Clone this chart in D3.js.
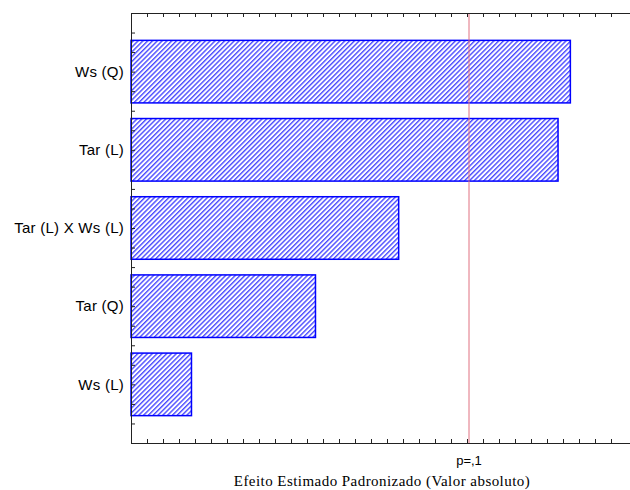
<!DOCTYPE html>
<html>
<head>
<meta charset="utf-8">
<script src="https://cdn.jsdelivr.net/npm/d3@7/dist/d3.min.js"></script>
<style>
  html, body { margin: 0; padding: 0; background: #fff; }
  svg { display: block; }
</style>
</head>
<body>
<script>
// ---- data ----
const categories = ["Ws (Q)", "Tar (L)", "Tar (L) X Ws (L)", "Tar (Q)", "Ws (L)"];
const effects = [2.746, 2.669, 1.673, 1.153, 0.378];
const pValueLine = 2.1125;
const pLabel = "p=,1";
const xTitle = "Efeito Estimado Padronizado (Valor absoluto)";
const xTickValues = d3.range(0, 31).map(i => i / 10);
const yTickValues = d3.range(0, 23);

// ---- layout ----
const W = 630, H = 490;
const mLeft = 131, mTop = 13, mRight = 630, mBottom = 443;

const svg = d3.select("body").append("svg").attr("width", W).attr("height", H);

const defs = svg.append("defs");
const pat = defs.append("pattern")
  .attr("id", "hatch")
  .attr("patternUnits", "userSpaceOnUse")
  .attr("width", 3.4).attr("height", 3.4)
  .attr("patternTransform", "rotate(45)");
pat.append("rect").attr("width", 3.4).attr("height", 3.4).attr("fill", "#fff");
pat.append("rect").attr("x", 0).attr("y", 0).attr("width", 1.4).attr("height", 3.4)
  .attr("fill", "#4a4aff");

const x = d3.scaleLinear().domain([0, (mRight - mLeft) / 160]).range([mLeft, mRight]);
const yLin = d3.scaleLinear().domain([0, 22]).range([mTop, mBottom]);
const y = d3.scaleBand().domain(categories)
  .range([yLin(1), yLin(21)]).paddingInner(0.2).paddingOuter(0.1);

// bars
svg.append("g").selectAll("rect").data(categories).join("rect")
  .attr("x", x(0))
  .attr("y", d => y(d))
  .attr("width", (d, i) => x(effects[i]) - x(0))
  .attr("height", y.bandwidth())
  .attr("fill", "url(#hatch)")
  .attr("stroke", "#0000ff")
  .attr("stroke-width", 1.5);

// p line
svg.append("line")
  .attr("x1", x(pValueLine)).attr("x2", x(pValueLine))
  .attr("y1", mTop).attr("y2", mBottom)
  .attr("stroke", "#e07080").attr("stroke-width", 1);

// axes
const axisColor = "#222";
const bottomAxis = svg.append("g").attr("transform", `translate(0,${mBottom})`)
  .call(d3.axisBottom(x).tickValues(xTickValues).tickSizeInner(-4).tickSizeOuter(0).tickFormat(""));
const topAxis = svg.append("g").attr("transform", `translate(0,${mTop})`)
  .call(d3.axisTop(x).tickValues(xTickValues).tickSizeInner(-4).tickSizeOuter(0).tickFormat(""));
const leftAxis = svg.append("g").attr("transform", `translate(${mLeft},0)`)
  .call(d3.axisLeft(yLin).tickValues(yTickValues).tickSizeInner(-4).tickSizeOuter(0).tickFormat(""));
[bottomAxis, topAxis, leftAxis].forEach(g => {
  g.selectAll("path, line").attr("stroke", axisColor).attr("stroke-width", 1);
});

// category labels
svg.append("g").selectAll("text").data(categories).join("text")
  .attr("x", mLeft - 7)
  .attr("y", d => y(d) + y.bandwidth() / 2)
  .attr("dy", "0.35em")
  .attr("text-anchor", "end")
  .attr("font-family", "Liberation Sans, Arial, sans-serif")
  .attr("font-size", 15)
  .attr("letter-spacing", 0.25)
  .attr("fill", "#000")
  .text(d => d);

// p label
svg.append("text")
  .attr("x", x(pValueLine)).attr("y", 465)
  .attr("text-anchor", "middle")
  .attr("font-family", "Liberation Sans, Arial, sans-serif")
  .attr("font-size", 13)
  .attr("fill", "#000")
  .text(pLabel);

// x title
svg.append("text")
  .attr("x", 382).attr("y", 486)
  .attr("text-anchor", "middle")
  .attr("font-family", "Liberation Serif, Times New Roman, serif")
  .attr("font-size", 15)
  .attr("letter-spacing", 0.45)
  .attr("fill", "#000")
  .text(xTitle);
</script>
</body>
</html>
